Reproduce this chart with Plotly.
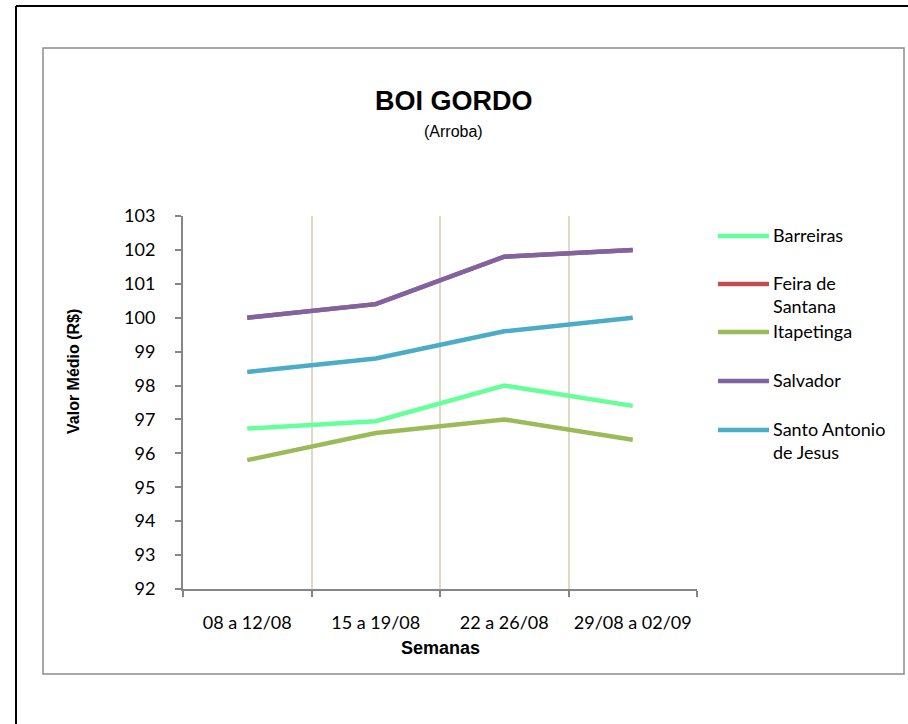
import plotly.graph_objects as go

# ---- data ----
semanas = ["08 a 12/08", "15 a 19/08", "22 a 26/08", "29/08 a 02/09"]
barreiras = [96.73, 96.95, 98.0, 97.4]
feira_de_santana = [100.0, 100.4, 101.8, 102.0]
itapetinga = [95.8, 96.6, 97.0, 96.4]
salvador = [100.0, 100.4, 101.8, 102.0]
santo_antonio = [98.4, 98.8, 99.6, 100.0]

series_names = ["Barreiras", "Feira de Santana", "Itapetinga", "Salvador", "Santo Antonio de Jesus"]
legend_labels = ["Barreiras", "Feira de<br>Santana", "Itapetinga", "Salvador", "Santo Antonio<br>de Jesus"]
series_values = [barreiras, feira_de_santana, itapetinga, salvador, santo_antonio]
colors = ["#66FF99", "#C0504D", "#9BBB59", "#8064A2", "#4BACC6"]

W, H = 908, 724
L, R, T, B = 183, 697, 216, 589  # plot area in px


def px(x):
    return (x - L) / (R - L)


def py(y):
    return (B - y) / (B - T)


fig = go.Figure()
for name, vals, col in zip(series_names, series_values, colors):
    fig.add_trace(go.Scatter(x=semanas, y=vals, name=name, mode="lines",
                             line=dict(color=col, width=4.5), showlegend=False))

tick_font = dict(family="Lato, Calibri, sans-serif", size=18, color="#000000")
axis_col = "#868686"

fig.update_layout(
    width=W, height=H,
    margin=dict(l=L, r=W - R, t=T, b=H - B, pad=0),
    paper_bgcolor="white", plot_bgcolor="white",
    xaxis=dict(type="category", tickson="boundaries", range=[-0.5, 3.5], showgrid=True,
               gridcolor="#DDD9C3", gridwidth=1.5, showline=True, linecolor=axis_col, linewidth=2,
               ticks="outside", ticklen=6, tickcolor=axis_col, tickwidth=1.5,
               tickfont=tick_font, ticklabelstandoff=16, zeroline=False),
    yaxis=dict(range=[92, 103], dtick=1, showgrid=False, showline=True, linecolor=axis_col,
               linewidth=2, ticks="outside", ticklen=6, tickcolor=axis_col, tickwidth=1.5,
               tickfont=tick_font, ticklabelstandoff=16, zeroline=False),
)

shapes = []
# outer black frame lines
shapes.append(dict(type="line", xref="paper", yref="paper", x0=px(16), x1=px(908), y0=py(6), y1=py(6),
                   line=dict(color="black", width=2)))
shapes.append(dict(type="line", xref="paper", yref="paper", x0=px(16), x1=px(16), y0=py(6), y1=py(724),
                   line=dict(color="black", width=2)))
# inner chart border
shapes.append(dict(type="rect", xref="paper", yref="paper", x0=px(43), x1=px(904), y0=py(48), y1=py(674),
                   line=dict(color="#8C8C8C", width=1.5), layer="below"))

annotations = []
annotations.append(dict(text="<b>BOI GORDO</b>", x=px(454), y=py(101), xref="paper", yref="paper",
                        showarrow=False, xanchor="center", yanchor="middle",
                        font=dict(family="Liberation Sans, Arial, sans-serif", size=27, color="black")))
annotations.append(dict(text="(Arroba)", x=px(453), y=py(131), xref="paper", yref="paper",
                        showarrow=False, xanchor="center", yanchor="middle",
                        font=dict(family="Liberation Sans, Arial, sans-serif", size=16, color="black")))
annotations.append(dict(text="<b>Valor Médio (R$)</b>", x=px(73), y=py(372), xref="paper", yref="paper",
                        showarrow=False, xanchor="center", yanchor="middle", textangle=-90,
                        font=dict(family="Liberation Sans, Arial, sans-serif", size=16, color="black")))
annotations.append(dict(text="<b>Semanas</b>", x=px(440), y=py(648), xref="paper", yref="paper",
                        showarrow=False, xanchor="center", yanchor="middle",
                        font=dict(family="Liberation Sans, Arial, sans-serif", size=18, color="black")))

# legend
legend_y = [236, 284, 332, 381, 430]
for lab, col, ly in zip(legend_labels, colors, legend_y):
    shapes.append(dict(type="line", xref="paper", yref="paper", x0=px(718), x1=px(769),
                       y0=py(ly), y1=py(ly), line=dict(color=col, width=4.5)))
    annotations.append(dict(text=lab, x=px(772), y=py(ly - 13), xref="paper", yref="paper",
                            showarrow=False, xanchor="left", yanchor="top", align="left",
                            font=tick_font, borderpad=0))

fig.update_layout(shapes=shapes, annotations=annotations)
fig.write_html("out.html", config={"displayModeBar": False},
               post_script="document.body.style.margin='0';document.body.style.overflow='hidden';")
